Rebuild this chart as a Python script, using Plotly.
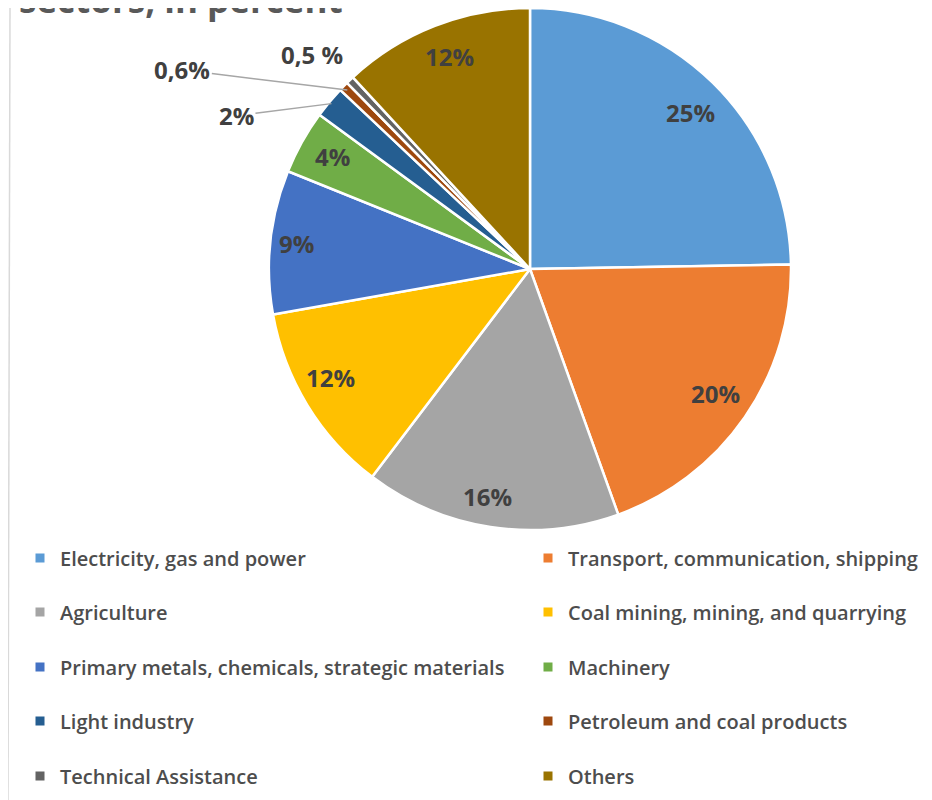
import math
import plotly.graph_objects as go

# ---------------- data ----------------
labels = [
    "Electricity, gas and power",
    "Transport, communication, shipping",
    "Agriculture",
    "Coal mining, mining, and quarrying",
    "Primary metals, chemicals, strategic materials",
    "Machinery",
    "Light industry",
    "Petroleum and coal products",
    "Technical Assistance",
    "Others",
]
values = [25, 20, 16, 12, 9, 4, 2, 0.6, 0.5, 12]
value_text = ["25%", "20%", "16%", "12%", "9%", "4%", "2%", "0,6%", "0,5 %", "12%"]
colors = ["#5B9BD5", "#ED7D31", "#A5A5A5", "#FFC000", "#4472C4",
          "#70AD47", "#255E91", "#9E480E", "#636363", "#997300"]
title_text = "sectors, in percent"

# ---------------- layout constants ----------------
OFF = 8                    # page body margin
W, H = 932 - OFF, 800 - OFF  # figure size so it fits the window


def fx(x):  # page px -> paper x
    return (x - OFF) / W


def fy(y):  # page px -> paper y
    return 1 - (y - OFF) / H


CX, CY, R = 530, 269, 261          # pie centre / radius in page px
TXT = "#404040"
LABEL_FONT = dict(family="Open Sans", size=24, color=TXT, weight="bold")
# label placement: (radius fraction, text dx, text dy, leader line)
label_style = [
    (0.84, 7, 0, False), (0.85, 3, -2, False), (0.88, -8, 0, False), (0.87, -6, -10, False),
    (0.89, -2, -1, False), (0.86, -1, -3, False),
    (0.99, -95, 12, True), (0.98, -165, -20, True), (1.0, -38, -26, False),
    (0.86, 1, -3, False),
]

fig = go.Figure()
fig.add_trace(go.Pie(
    labels=labels, values=values, textinfo="none",
    sort=False, direction="clockwise", rotation=0,
    marker=dict(colors=colors, line=dict(color="white", width=2.5)),
    domain=dict(x=[fx(CX - R), fx(CX + R)], y=[max(0, fy(CY + R)), min(1, fy(CY - R))]),
    showlegend=False, hoverinfo="label+percent",
))

# legend entries: one legend per entry, two columns
col_x = [20, 528]
row_y = [558, 612, 667, 721, 776]
legends = {}
for i, (lab, col) in enumerate(zip(labels, colors)):
    key = "legend" if i == 0 else f"legend{i + 1}"
    fig.add_trace(go.Scatter(
        x=[None], y=[None], mode="markers", name=lab,
        marker=dict(symbol="square", size=9, color=col), legend=key,
    ))
    legends[key] = dict(orientation="h", x=fx(col_x[i % 2]), xanchor="left",
                        y=fy(row_y[i // 2]), yanchor="middle",
                        bgcolor="rgba(0,0,0,0)",
                        font=dict(family="Open Sans", size=20, color="#4D4D4D", weight=600))

# value labels, positions computed from the values
total = sum(values)
cum = 0
annotations = []
for i, v in enumerate(values):
    mid = (cum + v / 2) / total * 2 * math.pi
    cum += v
    rf, dx, dy, line = label_style[i]
    tx = CX + rf * R * math.sin(mid)
    ty = CY - rf * R * math.cos(mid)
    if line:
        annotations.append(dict(x=fx(tx), y=fy(ty), xref="paper", yref="paper",
                                text=value_text[i], showarrow=True, arrowhead=0,
                                arrowwidth=1.5, arrowcolor="#A6A6A6", ax=dx, ay=dy,
                                axref="pixel", ayref="pixel", standoff=0, font=LABEL_FONT))
    else:
        annotations.append(dict(x=fx(tx), y=fy(ty), xref="paper", yref="paper",
                                xanchor="center", yanchor="middle",
                                text=value_text[i], showarrow=False, xshift=dx, yshift=-dy,
                                font=LABEL_FONT))

# partially visible title
annotations.append(dict(x=fx(17), y=fy(0), xref="paper", yref="paper", xanchor="left",
                        yanchor="middle", text=title_text, showarrow=False,
                        font=dict(family="Open Sans", size=35, color="#595959", weight="bold")))

fig.update_layout(
    width=W, height=H, margin=dict(l=0, r=0, t=0, b=0, autoexpand=False),
    paper_bgcolor="white", plot_bgcolor="white",
    xaxis=dict(visible=False), yaxis=dict(visible=False),
    annotations=annotations,
    shapes=[dict(type="line", xref="paper", yref="paper", x0=fx(10), x1=fx(8), y0=1, y1=0,
                 line=dict(color="#D9D9D9", width=1.5))],
    **legends,
)
fig.write_html("out.html")
